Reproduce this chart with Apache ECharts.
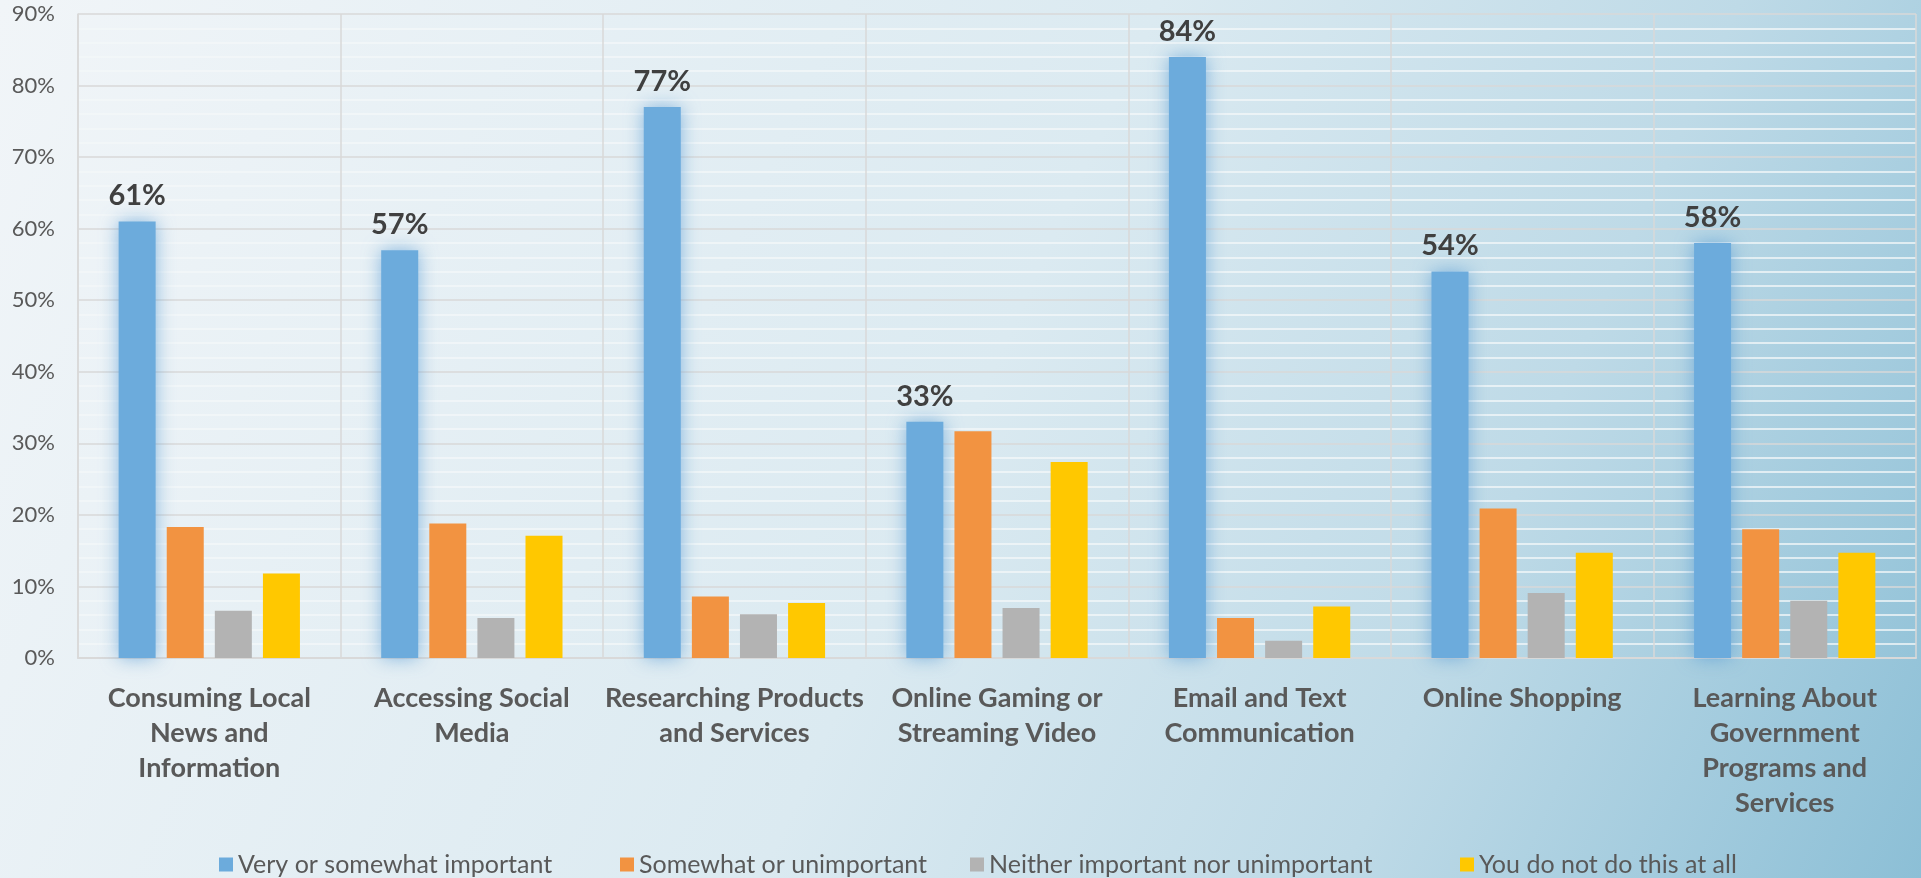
<!DOCTYPE html>
<html>
<head>
<meta charset="utf-8">
<title>Importance of Internet Activities</title>
<script src="https://cdn.jsdelivr.net/npm/echarts@6/dist/echarts.min.js"></script>
<style>
  html, body { margin: 0; padding: 0; }
  #chart { width: 1921px; height: 878px; }
</style>
</head>
<body>
<div id="chart"></div>
<script>
// Activity categories (line breaks follow the axis label wrapping)
const categories = [
  'Consuming Local\nNews and\nInformation',
  'Accessing Social\nMedia',
  'Researching Products\nand Services',
  'Online Gaming or\nStreaming Video',
  'Email and Text\nCommunication',
  'Online Shopping',
  'Learning About\nGovernment\nPrograms and\nServices'
];

const seriesNames = [
  'Very or somewhat important',
  'Somewhat or unimportant',
  'Neither important nor unimportant',
  'You do not do this at all'
];

// Percent of respondents
const veryImportant    = [61, 57, 77, 33, 84, 54, 58];
const somewhatUnimp    = [18.3, 18.8, 8.6, 31.7, 5.6, 20.9, 18.0];
const neitherImportant = [6.6, 5.6, 6.1, 7.0, 2.4, 9.1, 8.0];
const notAtAll         = [11.8, 17.1, 7.7, 27.4, 7.2, 14.7, 14.7];

const yTicks = { min: 0, max: 90, interval: 10 };

const colors = ['#6CABDC', '#F29341', '#B3B3B3', '#FFC800'];
const FONT = 'Lato, "Open Sans", sans-serif';

// Horizontal start of each legend entry
const legendLefts = [219, 620, 970, 1460];

const chart = echarts.init(document.getElementById('chart'));

const values = [veryImportant, somewhatUnimp, neitherImportant, notAtAll];

const series = values.map((arr, i) => {
  const s = {
    name: seriesNames[i],
    type: 'bar',
    data: arr,
    barWidth: 37,
    barGap: '30%',
    itemStyle: { color: colors[i] },
    emphasis: { disabled: true }
  };
  if (i === 0) {
    s.itemStyle.shadowBlur = 18;
    s.itemStyle.shadowColor = 'rgba(80,150,210,0.65)';
    s.label = {
      show: true,
      position: 'top',
      distance: 11,
      formatter: '{c}%',
      fontFamily: FONT,
      fontWeight: 'bold',
      fontSize: 29,
      color: '#404040'
    };
  }
  return s;
});

const legends = seriesNames.map((name, i) => ({
  top: 852,
  left: legendLefts[i],
  padding: 0,
  itemWidth: 14,
  itemHeight: 14,
  icon: 'rect',
  textStyle: { fontFamily: FONT, fontSize: 25, color: '#595959' },
  data: [name]
}));

chart.setOption({
  backgroundColor: {
    type: 'linear', x: 0, y: 0, x2: 1, y2: 1,
    colorStops: [
      { offset: 0, color: '#f1f5f8' },
      { offset: 0.5, color: '#dbeaf1' },
      { offset: 0.75, color: '#bedae7' },
      { offset: 1, color: '#8cbfd6' }
    ]
  },
  textStyle: { fontFamily: FONT },
  grid: { left: 78, right: 5, top: 14, bottom: 220, containLabel: false },
  legend: legends,
  xAxis: {
    type: 'category',
    data: categories,
    boundaryGap: true,
    axisLine: { show: true, lineStyle: { color: '#d9d9d9', width: 2 } },
    axisTick: { show: false },
    splitLine: { show: true, interval: 0, lineStyle: { color: '#d9d9d9', width: 1.5 } },
    axisLabel: {
      interval: 0,
      margin: 23,
      fontFamily: FONT,
      fontWeight: 'bold',
      fontSize: 27,
      lineHeight: 35,
      color: '#595959'
    }
  },
  yAxis: {
    type: 'value',
    min: yTicks.min,
    max: yTicks.max,
    interval: yTicks.interval,
    axisLine: { show: true, lineStyle: { color: '#d9d9d9', width: 1.5 } },
    axisTick: { show: false },
    axisLabel: {
      formatter: '{value}%',
      margin: 23,
      fontFamily: FONT,
      fontSize: 22,
      color: '#595959'
    },
    splitLine: { show: true, lineStyle: { color: '#d9d9d9', width: 1.5 } },
    minorTick: { show: false, splitNumber: 5 },
    minorSplitLine: { show: true, lineStyle: { color: '#f4f7f9', width: 1.5 } }
  },
  series: series
});
</script>
</body>
</html>
